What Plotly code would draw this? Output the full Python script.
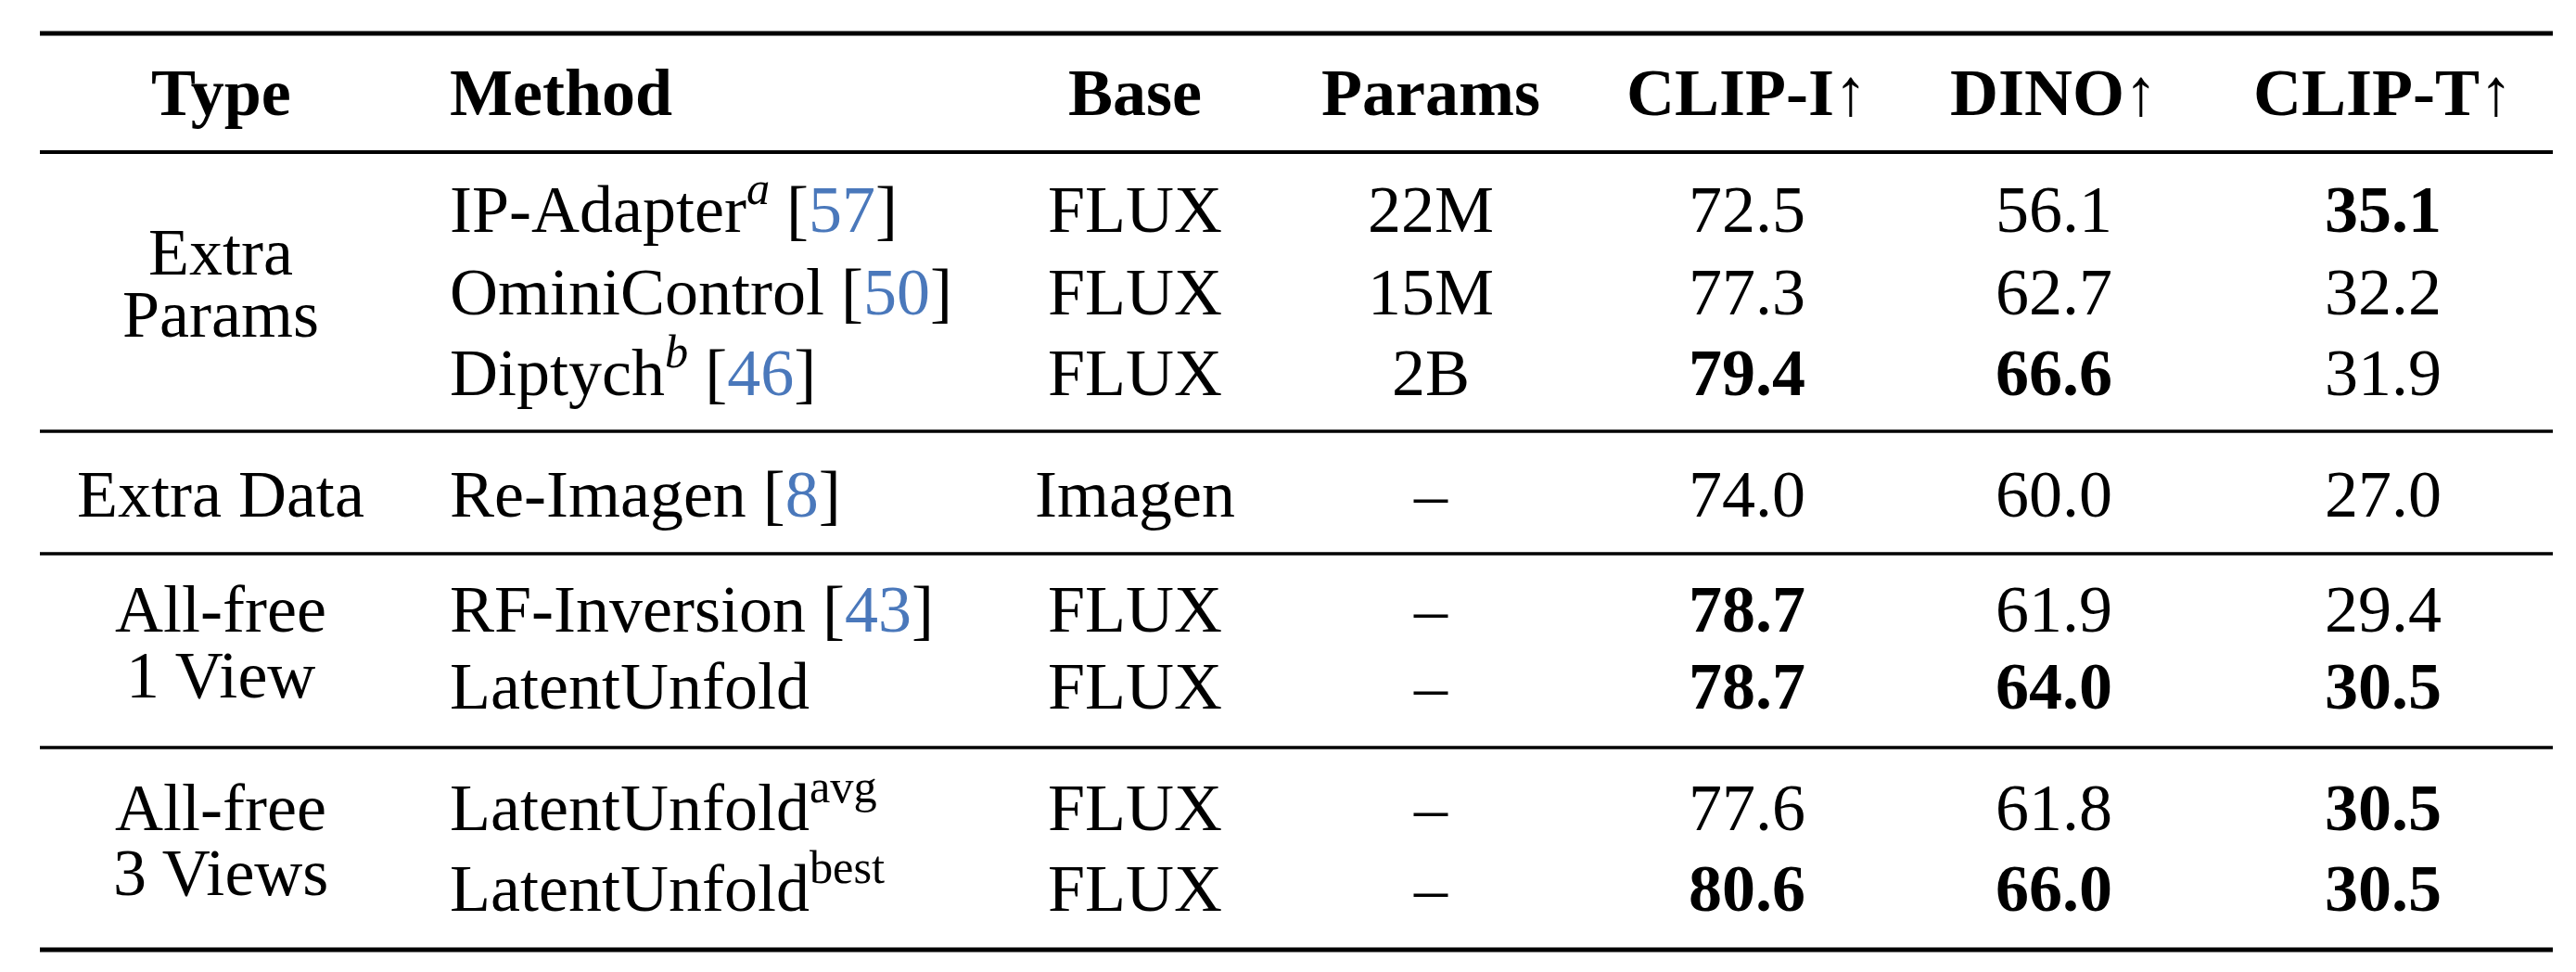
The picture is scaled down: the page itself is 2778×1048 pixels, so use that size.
import plotly.graph_objects as go

headers = ["Type", "Method", "Base", "Params", "CLIP-I↑", "DINO↑", "CLIP-T↑"]
type_groups = [["Extra", "Params"], ["Extra Data"], ["All-free", "1 View"], ["All-free", "3 Views"]]
group_sizes = [3, 1, 2, 2]
methods = ["IP-Adapter", "OminiControl", "Diptych", "Re-Imagen", "RF-Inversion", "LatentUnfold", "LatentUnfold", "LatentUnfold"]
method_sup = ["<i>a</i>", "", "<i>b</i>", "", "", "", "avg", "best"]
refs = ["57", "50", "46", "8", "43", "", "", ""]
bases = ["FLUX", "FLUX", "FLUX", "Imagen", "FLUX", "FLUX", "FLUX", "FLUX"]
params = ["22M", "15M", "2B", "–", "–", "–", "–", "–"]
clip_i = [72.5, 77.3, 79.4, 74.0, 78.7, 78.7, 77.6, 80.6]
dino = [56.1, 62.7, 66.6, 60.0, 61.9, 64.0, 61.8, 66.0]
clip_t = [35.1, 32.2, 31.9, 27.0, 29.4, 30.5, 30.5, 30.5]
bold_clip_i = [0, 0, 1, 0, 1, 1, 0, 1]
bold_dino = [0, 0, 1, 0, 0, 1, 0, 1]
bold_clip_t = [1, 0, 0, 0, 0, 1, 1, 1]

W, H = 2778, 1048
FONT = "Liberation Serif, Times New Roman, serif"
FS = 72
BLUE = "#4a78bb"
col_x = [230, 475, 1216, 1535, 1876, 2207, 2562]
header_y = 92
row_y = [218, 307, 394, 525, 649, 732, 863, 950]
rules = [(28, 5), (156, 4), (457, 3.5), (589, 3.5), (798, 3.5), (1016, 5)]
type_line_y = [[264, 331], [525], [649, 720], [863, 933]]

fig = go.Figure()
fig.add_trace(go.Scatter(x=[0, W], y=[0, H], mode="markers", marker=dict(opacity=0), hoverinfo="skip", showlegend=False))

ann = []
def add(x, y, t, anchor="center"):
    ann.append(dict(x=x, y=y, xref="x", yref="y", text=t, showarrow=False, xanchor=anchor, yanchor="middle",
                    font=dict(family=FONT, size=FS, color="black")))

for i, h in enumerate(headers):
    add(col_x[i], header_y, f"<b>{h}</b>", "left" if i == 1 else "center")

for g, lines in enumerate(type_groups):
    for t, y in zip(lines, type_line_y[g]):
        add(col_x[0], y, t)

def num(v, b):
    s = f"{v:.1f}"
    return f"<b>{s}</b>" if b else s

for r in range(len(methods)):
    y = row_y[r]
    t = methods[r]
    if method_sup[r]:
        t += f"<sup>{method_sup[r]}</sup>"
    if refs[r]:
        t += f" [<span style='color:{BLUE}'>{refs[r]}</span>]"
    add(col_x[1], y - (6 if method_sup[r] else 0), t, "left")
    add(col_x[2], y, bases[r])
    add(col_x[3], y, params[r])
    add(col_x[4], y, num(clip_i[r], bold_clip_i[r]))
    add(col_x[5], y, num(dino[r], bold_dino[r]))
    add(col_x[6], y, num(clip_t[r], bold_clip_t[r]))

shapes = [dict(type="line", xref="x", yref="y", x0=35, x1=2745, y0=y, y1=y, line=dict(color="black", width=w)) for y, w in rules]

fig.update_layout(width=W, height=H, margin=dict(l=0, r=0, t=0, b=0), paper_bgcolor="white", plot_bgcolor="white",
                  xaxis=dict(range=[0, W], visible=False), yaxis=dict(range=[H, 0], visible=False),
                  annotations=ann, shapes=shapes)
fig.write_html("out.html")
